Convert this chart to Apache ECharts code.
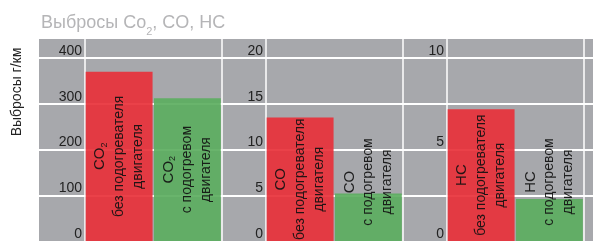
<!DOCTYPE html>
<html>
<head>
<meta charset="utf-8">
<script src="https://cdn.jsdelivr.net/npm/echarts@6/dist/echarts.min.js"></script>
<style>
  html, body { margin: 0; padding: 0; background: #fff; }
  #chart { width: 593px; height: 241px; }
</style>
</head>
<body>
<div id="chart"></div>
<script>
// значения (г/км)
const co2Values = [370, 312];
const coValues = [13.5, 5.2];
const hcValues = [7.2, 2.3];

const gasLabels = ['{g|CO}{s|2}', '{g|CO}', '{g|HC}'];
const conditions = ['без подогревателя', 'с подогревом'];
const axisTops = [400, 20, 10];
const axisSteps = [100, 5, 5];

const FONT = '"Liberation Sans", Arial, sans-serif';
const GRAY = '#a7a8ac';
const RED = '#e8313a';
const GREEN = '#5cae60';

// геометрия панелей
const panelLefts = [85, 266, 447];
const panelWidth = 136.5;
const plotTop = 58;   // линия верхнего деления
const bandTop = 39;   // верх серой подложки
const chartH = 241;
// max оси, чтобы верхнее деление попало на plotTop, а сетка шла от bandTop
const scaleMax = (top) => top * (chartH - bandTop) / (chartH - plotTop);

const chart = echarts.init(document.getElementById('chart'));

const richText = {
  g: { fontSize: 15, fontFamily: FONT, color: '#111', lineHeight: 19, verticalAlign: 'middle' },
  s: { fontSize: 9, fontFamily: FONT, color: '#111', lineHeight: 19, verticalAlign: 'bottom', padding: [0, 0, 1, 0] },
  t: { fontSize: 14, fontFamily: FONT, color: '#111', lineHeight: 19 }
};

const grids = [{ left: 39, right: 0, top: plotTop, bottom: 0 }];
const xAxes = [{ gridIndex: 0, type: 'value', show: false, min: 0, max: 1 }];
const yAxes = [{
  gridIndex: 0, type: 'value', min: 0, max: 4, interval: 1,
  axisLine: { show: false }, axisTick: { show: false }, axisLabel: { show: false },
  splitLine: { show: true, showMinLine: false, lineStyle: { color: '#fff', width: 2 } }
}];
const series = [];

[co2Values, coValues, hcValues].forEach((vals, i) => {
  const gi = i + 1;
  grids.push({ left: panelLefts[i], width: panelWidth, top: bandTop, bottom: 0 });
  xAxes.push({
    gridIndex: gi, type: 'category', data: conditions,
    axisLine: { show: false }, axisTick: { show: false }, axisLabel: { show: false },
    splitLine: { show: true, lineStyle: { color: '#fff', width: 1.5 } }
  });
  const step = axisSteps[i];
  yAxes.push({
    gridIndex: gi, type: 'value', min: 0, max: scaleMax(axisTops[i]), interval: step,
    axisLine: { show: false }, axisTick: { show: false }, splitLine: { show: false },
    axisLabel: {
      fontSize: 14, fontFamily: FONT, color: '#222', margin: 3, verticalAlign: 'bottom',
      formatter: (v) => (Math.abs(v % step) < 1e-6 && v <= axisTops[i] ? String(v) : '')
    }
  });
  series.push({
    type: 'bar', xAxisIndex: gi, yAxisIndex: gi, barCategoryGap: '2%',
    data: vals.map((v, j) => {
      const short = v / axisTops[i] < 0.4;
      const item = {
        value: v,
        itemStyle: { color: j === 0 ? RED : GREEN, opacity: 0.92 }
      };
      if (short) {
        item.label = { position: 'insideBottom', distance: 59, align: 'center', verticalAlign: 'middle' };
      }
      return item;
    }),
    label: {
      show: true, position: 'inside', rotate: 90, align: 'center', verticalAlign: 'middle',
      formatter: (p) => gasLabels[i] + '\n{t|' + conditions[p.dataIndex] + '}\n{t|двигателя}',
      rich: richText
    }
  });
});

chart.setOption({
  animation: false,
  backgroundColor: '#fff',
  title: {
    text: '{a|Выбросы Co}{s|2}{a|, CO, HC}',
    left: 36, top: 8,
    textStyle: {
      fontWeight: 'normal',
      rich: {
        a: { fontSize: 18, fontFamily: FONT, fontWeight: 'normal', color: '#b5b5b7', lineHeight: 20 },
        s: { fontSize: 11, fontFamily: FONT, fontWeight: 'normal', color: '#b5b5b7', lineHeight: 20, verticalAlign: 'bottom', padding: [0, 0, -4, 0] }
      }
    }
  },
  graphic: [
    { type: 'rect', z: -10, silent: true, shape: { x: 39, y: bandTop, width: 554, height: chartH - bandTop }, style: { fill: GRAY } },
    {
      type: 'text', x: 17, y: 92, rotation: Math.PI / 2,
      style: { text: 'Выбросы г/км', font: '14px ' + FONT, fill: '#222', align: 'center', verticalAlign: 'middle' }
    }
  ],
  grid: grids,
  xAxis: xAxes,
  yAxis: yAxes,
  series: series
});
</script>
</body>
</html>
